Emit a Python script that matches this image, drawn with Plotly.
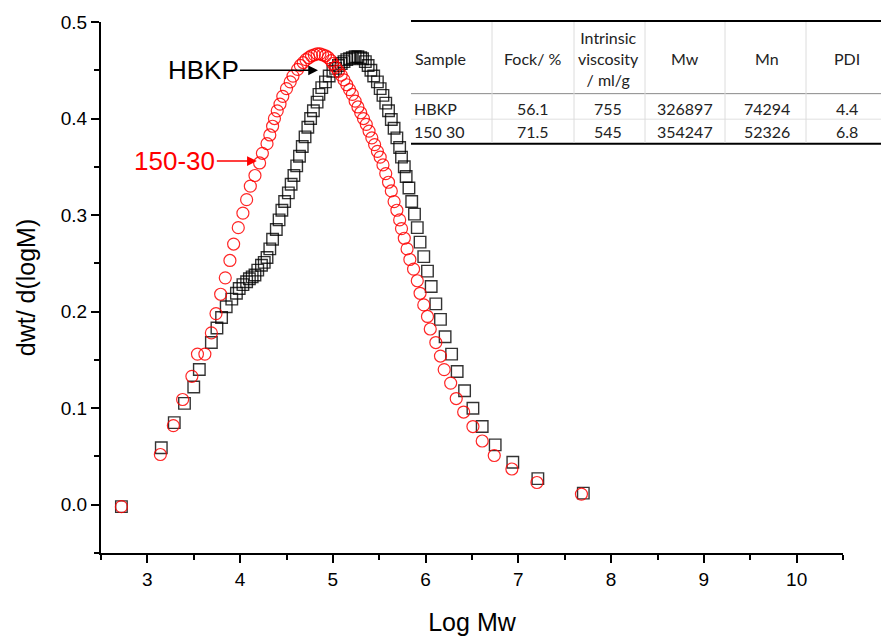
import plotly.graph_objects as go

# ---------------- data ----------------
hbkp_x = [2.72, 3.15, 3.29, 3.40, 3.50, 3.56, 3.69, 3.75, 3.80, 3.85, 3.91, 3.96, 3.99, 4.03,
          4.07, 4.10, 4.13, 4.16, 4.19, 4.23, 4.26, 4.29, 4.32, 4.35, 4.39, 4.42, 4.45, 4.48,
          4.52, 4.55, 4.58, 4.61, 4.64, 4.67, 4.70, 4.73, 4.76, 4.79, 4.83, 4.85, 4.88, 4.92,
          4.96, 5.00, 5.03, 5.06, 5.09, 5.12, 5.15, 5.18, 5.21, 5.24, 5.27, 5.30, 5.32, 5.35,
          5.38, 5.41, 5.44, 5.48, 5.51, 5.54, 5.57, 5.60, 5.63, 5.66, 5.69, 5.72, 5.74, 5.77,
          5.79, 5.82, 5.85, 5.88, 5.91, 5.94, 5.98, 6.02, 6.06, 6.11, 6.16, 6.21, 6.28, 6.34,
          6.42, 6.51, 6.61, 6.75, 6.94, 7.21, 7.70]
hbkp_y = [-0.002, 0.059, 0.085, 0.105, 0.122, 0.140, 0.168, 0.183, 0.194, 0.205, 0.213, 0.219, 0.224, 0.228,
          0.231, 0.234, 0.236, 0.238, 0.243, 0.248, 0.251, 0.256, 0.265, 0.275, 0.285, 0.295, 0.305, 0.314,
          0.323, 0.332, 0.341, 0.351, 0.361, 0.371, 0.381, 0.391, 0.400, 0.408, 0.417, 0.425, 0.432, 0.438,
          0.444, 0.449, 0.452, 0.455, 0.457, 0.459, 0.461, 0.462, 0.463, 0.464, 0.464, 0.463, 0.462, 0.459,
          0.455, 0.450, 0.444, 0.438, 0.431, 0.424, 0.416, 0.408, 0.399, 0.390, 0.380, 0.370, 0.360, 0.350,
          0.340, 0.328, 0.314, 0.301, 0.287, 0.272, 0.257, 0.242, 0.226, 0.208, 0.192, 0.174, 0.156, 0.138,
          0.118, 0.100, 0.081, 0.062, 0.044, 0.027, 0.012]

s150_x = [2.72, 3.14, 3.28, 3.38, 3.48, 3.54, 3.62, 3.69, 3.74, 3.79, 3.84, 3.89, 3.93, 3.98,
          4.03, 4.07, 4.11, 4.16, 4.21, 4.24, 4.29, 4.32, 4.35, 4.37, 4.40, 4.43, 4.46, 4.50,
          4.54, 4.57, 4.62, 4.65, 4.68, 4.71, 4.74, 4.77, 4.80, 4.83, 4.86, 4.89, 4.92, 4.95,
          4.98, 5.00, 5.03, 5.06, 5.09, 5.12, 5.15, 5.18, 5.21, 5.24, 5.27, 5.30, 5.33, 5.36,
          5.39, 5.42, 5.45, 5.48, 5.51, 5.54, 5.57, 5.60, 5.63, 5.66, 5.69, 5.72, 5.74, 5.77,
          5.80, 5.83, 5.87, 5.91, 5.94, 5.98, 6.02, 6.05, 6.11, 6.16, 6.20, 6.27, 6.33, 6.41,
          6.51, 6.61, 6.74, 6.93, 7.20, 7.68]
s150_y = [-0.002, 0.052, 0.082, 0.109, 0.133, 0.156, 0.156, 0.178, 0.198, 0.218, 0.235, 0.253, 0.270, 0.287,
          0.302, 0.316, 0.330, 0.341, 0.354, 0.364, 0.374, 0.383, 0.392, 0.400, 0.408, 0.415, 0.423, 0.431,
          0.438, 0.444, 0.451, 0.455, 0.458, 0.461, 0.463, 0.465, 0.466, 0.467, 0.467, 0.466, 0.465, 0.463,
          0.460, 0.457, 0.453, 0.449, 0.445, 0.440, 0.435, 0.430, 0.425, 0.418, 0.412, 0.406, 0.400, 0.394,
          0.387, 0.380, 0.373, 0.366, 0.360, 0.352, 0.343, 0.334, 0.325, 0.314, 0.305, 0.295, 0.286, 0.276,
          0.265, 0.254, 0.244, 0.232, 0.219, 0.207, 0.195, 0.182, 0.168, 0.154, 0.140, 0.126, 0.110, 0.096,
          0.081, 0.066, 0.051, 0.037, 0.023, 0.011]

x_tickvals = [3, 4, 5, 6, 7, 8, 9, 10]
y_tickvals = [0.0, 0.1, 0.2, 0.3, 0.4, 0.5]

table_header = ["Sample", "Fock/ %", "Intrinsic<br>viscosity<br>/ ml/g", "Mw", "Mn", "PDI"]
table_rows = [
    ["HBKP", "56.1", "755", "326897", "74294", "4.4"],
    ["150 30", "71.5", "545", "354247", "52326", "6.8"],
]

# ---------------- figure ----------------
W, H = 881, 644
L, R, T, B = 101, 38, 16, 87
PW, PH = W - L - R, H - T - B


def px(xp):
    return (xp - L) / PW


def py(yp):
    return (H - B - yp) / PH


fig = go.Figure()
fig.add_trace(go.Scatter(
    x=hbkp_x, y=hbkp_y, mode="markers", name="HBKP",
    marker=dict(symbol="square-open", size=11.5, color="rgba(0,0,0,0.8)",
                line=dict(width=1.4, color="rgba(0,0,0,0.8)")),
))
fig.add_trace(go.Scatter(
    x=s150_x, y=s150_y, mode="markers", name="150-30",
    marker=dict(symbol="circle-open", size=12, color="rgba(255,0,0,0.85)",
                line=dict(width=1.2, color="rgba(255,0,0,0.85)")),
))

font_axis = "Liberation Sans, Arial, sans-serif"

annotations = [
    dict(x=4.84, y=0.450, xref="x", yref="y", text="HBKP", showarrow=True,
         ax=-115, ay=0, arrowhead=2, arrowsize=1.3, arrowwidth=1.5, arrowcolor="black",
         font=dict(size=26, color="black", family=font_axis)),
    dict(x=4.18, y=0.356, xref="x", yref="y", text="150-30", showarrow=True,
         ax=-82, ay=0, arrowhead=2, arrowsize=1.3, arrowwidth=1.5, arrowcolor="red",
         font=dict(size=26, color="red", family=font_axis)),
]

# table
tfont = dict(size=16, color="#222222", family="Lato, Liberation Sans, sans-serif")
col_centers = [440, 533, 608, 685, 767, 847]
for i, h in enumerate(table_header):
    annotations.append(dict(x=px(col_centers[i]), y=py(53), xref="paper", yref="paper",
                            text=h, showarrow=False, font=tfont,
                            xanchor="center", yanchor="middle", align="center"))
row_y = [104, 128]
for r, row in enumerate(table_rows):
    for i, v in enumerate(row):
        if i == 0:
            annotations.append(dict(x=px(412), y=py(row_y[r]), xref="paper", yref="paper",
                                    text=v, showarrow=False, font=tfont,
                                    xanchor="left", yanchor="middle"))
        else:
            annotations.append(dict(x=px(col_centers[i]), y=py(row_y[r]), xref="paper", yref="paper",
                                    text=v, showarrow=False, font=tfont,
                                    xanchor="center", yanchor="middle"))

shapes = [
    dict(type="line", xref="paper", yref="paper", x0=px(411), x1=px(881), y0=py(15), y1=py(15),
         line=dict(color="black", width=2)),
    dict(type="line", xref="paper", yref="paper", x0=px(411), x1=px(881), y0=py(89), y1=py(89),
         line=dict(color="#8a8a8a", width=1)),
    dict(type="line", xref="paper", yref="paper", x0=px(411), x1=px(881), y0=py(115), y1=py(115),
         line=dict(color="#e0e0e0", width=1)),
    dict(type="line", xref="paper", yref="paper", x0=px(411), x1=px(881), y0=py(140), y1=py(140),
         line=dict(color="black", width=2)),
]
for xv in [492, 574, 645, 725, 806]:
    shapes.append(dict(type="line", xref="paper", yref="paper", x0=px(xv), x1=px(xv),
                       y0=py(16), y1=py(139), line=dict(color="#dcdcdc", width=1)))

fig.update_layout(
    width=W, height=H,
    margin=dict(l=L, r=R, t=T, b=B),
    plot_bgcolor="white", paper_bgcolor="white",
    showlegend=False,
    annotations=annotations,
    shapes=shapes,
    font=dict(family=font_axis, color="black"),
)
fig.update_xaxes(
    range=[2.5, 10.5], tickvals=x_tickvals, ticktext=[str(v) for v in x_tickvals],
    showgrid=False, zeroline=False, showline=True, linecolor="black", linewidth=2,
    ticks="outside", ticklen=8, tickwidth=2, tickcolor="black",
    minor=dict(dtick=0.5, tick0=2.5, ticks="outside", ticklen=5, tickwidth=2, tickcolor="black"),
    tickfont=dict(size=19, family=font_axis),
    title=dict(text="Log Mw", font=dict(size=25, family=font_axis), standoff=25),
)
fig.update_yaxes(
    range=[-0.05, 0.5], tickvals=y_tickvals, ticktext=[f"{v:.1f}" for v in y_tickvals],
    showgrid=False, zeroline=False, showline=True, linecolor="black", linewidth=2,
    ticks="outside", ticklen=8, tickwidth=2, tickcolor="black",
    minor=dict(dtick=0.05, tick0=0, ticks="outside", ticklen=5, tickwidth=2, tickcolor="black"),
    tickfont=dict(size=19, family=font_axis),
    title=dict(text="dwt/ d(logM)", font=dict(size=25, family=font_axis), standoff=18),
)

fig.write_html("out.html")
